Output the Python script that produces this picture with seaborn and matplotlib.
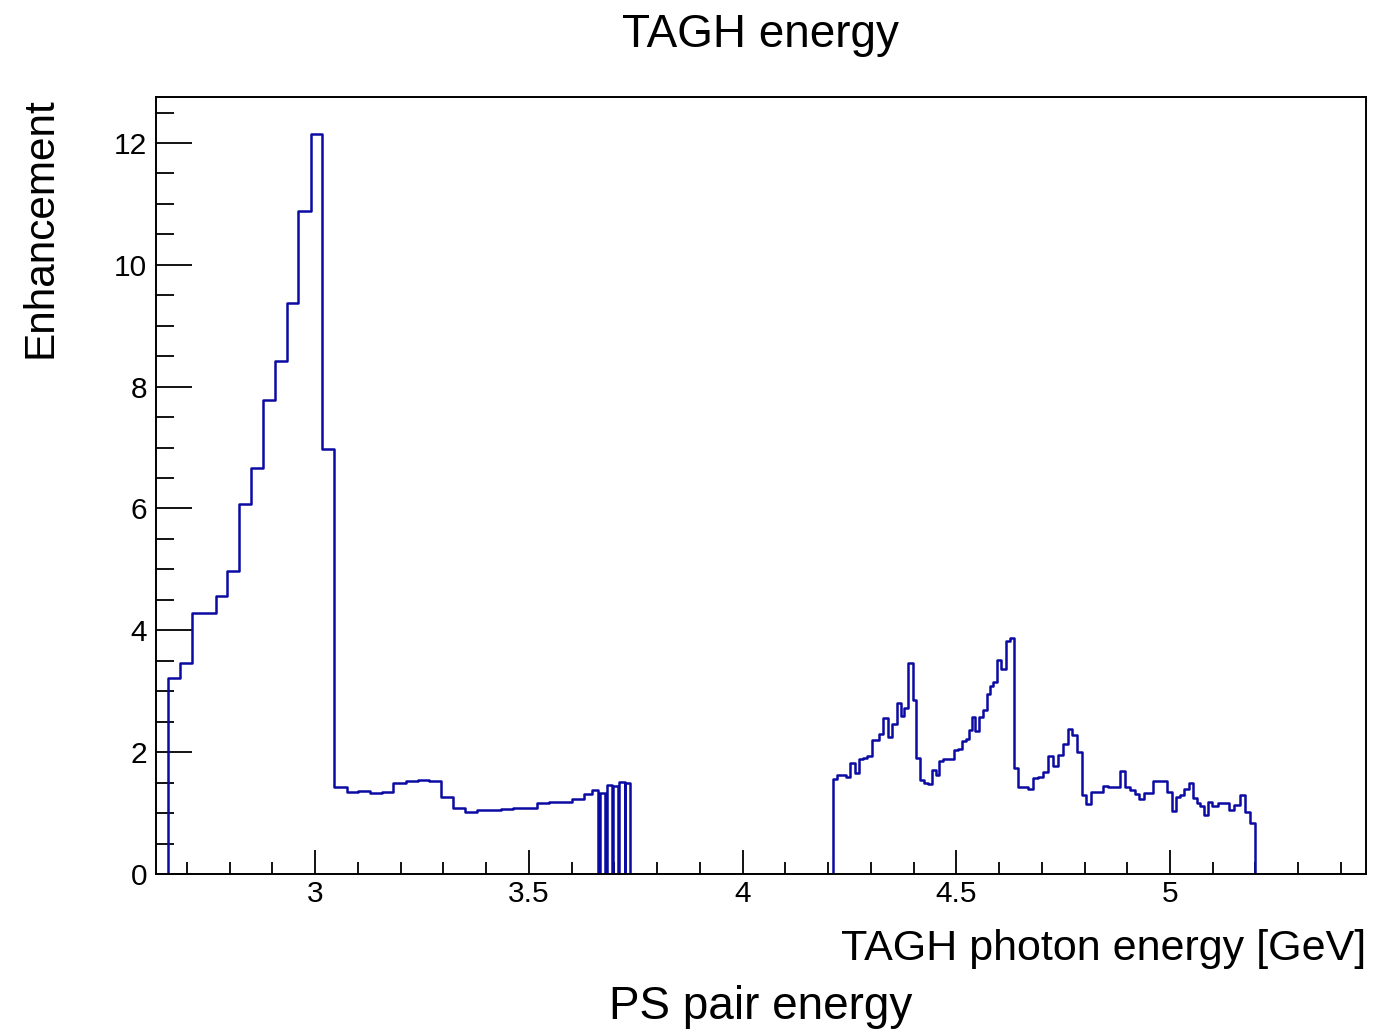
import numpy as np
import pandas as pd
import matplotlib
matplotlib.use("Agg")
import matplotlib.pyplot as plt
import seaborn as sns
from matplotlib.ticker import MultipleLocator, FormatStrFormatter

# ---- data (bin edges in GeV, enhancement values per bin) ----
low_edges = [2.655, 2.684, 2.712, 2.740, 2.768, 2.795, 2.823, 2.850, 2.879, 2.907,
             2.934, 2.961, 2.991, 3.017, 3.045, 3.074, 3.101, 3.129, 3.156, 3.183,
             3.213, 3.240, 3.267, 3.295, 3.322, 3.351, 3.378, 3.406, 3.434, 3.462,
             3.491, 3.519, 3.547, 3.575, 3.602, 3.630, 3.649, 3.661, 3.666, 3.678,
             3.682, 3.695, 3.698, 3.709, 3.712, 3.724, 3.726, 3.737]
low_values = [3.21, 3.46, 4.28, 4.28, 4.57, 4.97, 6.08, 6.67, 7.78, 8.42,
              9.38, 10.88, 12.15, 6.98, 1.42, 1.35, 1.37, 1.33, 1.34, 1.50,
              1.53, 1.55, 1.53, 1.27, 1.09, 1.01, 1.05, 1.05, 1.07, 1.09,
              1.08, 1.16, 1.19, 1.19, 1.23, 1.32, 1.38, 0.0, 1.33, 0.0,
              1.46, 0.0, 1.44, 0.0, 1.51, 0.0, 1.50]

high_edges = [4.211, 4.220, 4.232, 4.242, 4.251, 4.262, 4.273, 4.283, 4.292, 4.302,
              4.311, 4.320, 4.329, 4.341, 4.350, 4.361, 4.370, 4.378, 4.388, 4.398,
              4.407, 4.415, 4.425, 4.433, 4.443, 4.452, 4.460, 4.470, 4.478, 4.487,
              4.495, 4.503, 4.513, 4.522, 4.530, 4.538, 4.545, 4.554, 4.562, 4.571,
              4.579, 4.587, 4.595, 4.604, 4.616, 4.626, 4.635, 4.645, 4.656, 4.667,
              4.680, 4.692, 4.704, 4.715, 4.727, 4.739, 4.750, 4.762, 4.771, 4.783,
              4.793, 4.803, 4.815, 4.827, 4.836, 4.844, 4.856, 4.871, 4.883, 4.895,
              4.906, 4.918, 4.928, 4.939, 4.950, 4.961, 4.972, 4.983, 4.994, 5.004,
              5.015, 5.024, 5.033, 5.044, 5.053, 5.062, 5.071, 5.080, 5.090, 5.099,
              5.113, 5.126, 5.139, 5.150, 5.163, 5.175, 5.187, 5.200]
high_values = [1.56, 1.62, 1.63, 1.60, 1.83, 1.65, 1.88, 1.90, 1.94, 2.20,
               2.20, 2.30, 2.56, 2.25, 2.47, 2.80, 2.60, 2.72, 3.47, 2.85,
               1.91, 1.54, 1.50, 1.47, 1.70, 1.63, 1.86, 1.88, 1.88, 1.88,
               2.04, 2.06, 2.19, 2.22, 2.36, 2.58, 2.35, 2.57, 2.69, 2.95,
               3.08, 3.16, 3.52, 3.36, 3.83, 3.87, 1.74, 1.42, 1.42, 1.39,
               1.57, 1.60, 1.68, 1.93, 1.78, 1.96, 2.13, 2.38, 2.28, 2.00,
               1.30, 1.15, 1.35, 1.34, 1.34, 1.45, 1.42, 1.43, 1.69, 1.42,
               1.38, 1.31, 1.23, 1.33, 1.33, 1.53, 1.53, 1.53, 1.35, 1.03,
               1.26, 1.30, 1.39, 1.49, 1.25, 1.16, 1.12, 0.97, 1.18, 1.12,
               1.16, 1.16, 1.05, 1.14, 1.30, 1.02, 0.83]

x_range = (2.628, 5.4585)
y_range = (0.0, 12.755)

title_text = "TAGH energy"
x_label = "TAGH photon energy [GeV]"
y_label = "Enhancement"
sub_label = "PS pair energy"
line_color = "#0b0ba3"

# ---- build histogram table ----
edges = np.concatenate([[x_range[0]], low_edges, high_edges, [x_range[1]]])
values = np.concatenate([[0.0], low_values, [0.0], high_values, [0.0]])
centers = 0.5 * (edges[:-1] + edges[1:])
df = pd.DataFrame({"energy": centers, "enh": values})

sns.set_style("ticks")
plt.rcParams["font.family"] = ["Liberation Sans", "DejaVu Sans"]
plt.rcParams["text.color"] = "black"
plt.rcParams["axes.labelcolor"] = "black"
plt.rcParams["xtick.color"] = "black"
plt.rcParams["ytick.color"] = "black"
plt.rcParams["axes.edgecolor"] = "black"

W, H = 1395, 1029
fig = plt.figure(figsize=(W / 100, H / 100), dpi=100)
ax = fig.add_axes([156 / W, 1 - 874 / H, (1366 - 156) / W, (874 - 97) / H])

sns.histplot(data=df, x="energy", weights="enh", bins=edges.tolist(), element="step",
             fill=False, color=line_color, linewidth=1.8, ax=ax)

ax.set_xlim(*x_range)
ax.set_ylim(*y_range)

for s in ax.spines.values():
    s.set_visible(True)
    s.set_linewidth(1.4)
    s.set_color("black")

ax.xaxis.set_major_locator(MultipleLocator(0.5))
ax.xaxis.set_minor_locator(MultipleLocator(0.1))
ax.yaxis.set_major_locator(MultipleLocator(2))
ax.yaxis.set_minor_locator(MultipleLocator(0.5))
ax.xaxis.set_major_formatter(FormatStrFormatter("%g"))
ax.yaxis.set_major_formatter(FormatStrFormatter("%g"))

ax.tick_params(which="both", direction="in", top=False, right=False,
               color="black", labelcolor="black")
ax.tick_params(axis="x", which="major", length=17.3, width=1.3, labelsize=21.5, pad=4)
ax.tick_params(axis="x", which="minor", length=8.6, width=1.3)
ax.tick_params(axis="y", which="major", length=26, width=1.3, labelsize=21.5, pad=6.5)
ax.tick_params(axis="y", which="minor", length=13, width=1.3)

ax.set_xlabel(x_label, fontsize=31, ha="right", va="baseline")
ax.xaxis.set_label_coords(1.0, -(960 - 874) / (874 - 97))
ax.set_ylabel(y_label, fontsize=30.5, rotation=90, rotation_mode="anchor",
              ha="right", va="center")
ax.yaxis.set_label_coords((41 - 156) / (1366 - 156), 1.0)

fig.text(760 / W, 1 - 47 / H, title_text, ha="center", va="baseline", fontsize=33)
fig.text(761 / W, 1 - 1019 / H, sub_label, ha="center", va="baseline", fontsize=33)

fig.savefig("out.png", dpi=100)
